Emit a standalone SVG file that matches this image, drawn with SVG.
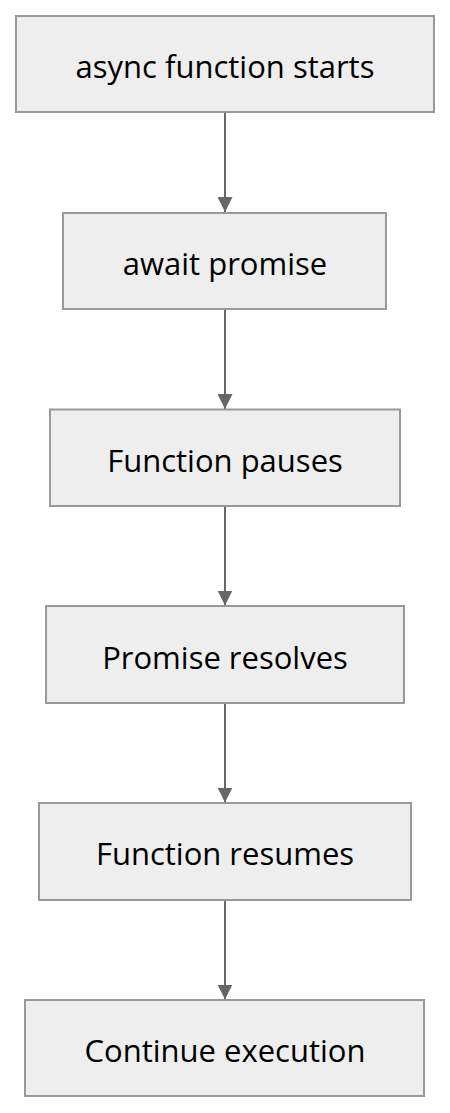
<svg xmlns="http://www.w3.org/2000/svg" width="450" height="1113" viewBox="0 0 450 1113">
<style>
.node rect{fill:#eeeeee;stroke:#999999;stroke-width:2}
.node text{font-family:"Open Sans","Liberation Sans",sans-serif;font-size:31px;fill:#000;text-anchor:middle}
.edge{stroke:#666666;stroke-width:2;fill:none}
</style>
<defs>
<marker id="arrow" viewBox="0 0 10 10" refX="10" refY="5" markerWidth="15" markerHeight="15" markerUnits="userSpaceOnUse" orient="auto">
<path d="M0,0 L10,5 L0,10 z" fill="#666666"/>
</marker>
</defs>
<rect width="450" height="1113" fill="#ffffff"/>
<g id="connectors">
<line class="edge" x1="225" y1="112" x2="225" y2="212" marker-end="url(#arrow)"/>
<line class="edge" x1="225" y1="309" x2="225" y2="409" marker-end="url(#arrow)"/>
<line class="edge" x1="225" y1="506" x2="225" y2="605.5" marker-end="url(#arrow)"/>
<line class="edge" x1="225" y1="703" x2="225" y2="802.5" marker-end="url(#arrow)"/>
<line class="edge" x1="225" y1="900" x2="225" y2="999.5" marker-end="url(#arrow)"/>
</g>
<g id="node1" class="node">
<rect x="16" y="16" width="418" height="96"/>
<text x="225" y="78">async function starts</text>
</g>
<g id="node2" class="node">
<rect x="63" y="213" width="323" height="96"/>
<text x="225" y="275">await promise</text>
</g>
<g id="node3" class="node">
<rect x="50" y="409.5" width="350" height="96.5"/>
<text x="225" y="471.5">Function pauses</text>
</g>
<g id="node4" class="node">
<rect x="46" y="606" width="358" height="97"/>
<text x="225" y="668.5">Promise resolves</text>
</g>
<g id="node5" class="node">
<rect x="39" y="803" width="372" height="97"/>
<text x="225" y="865">Function resumes</text>
</g>
<g id="node6" class="node">
<rect x="25" y="1000" width="399" height="96"/>
<text x="225" y="1062">Continue execution</text>
</g>
</svg>
